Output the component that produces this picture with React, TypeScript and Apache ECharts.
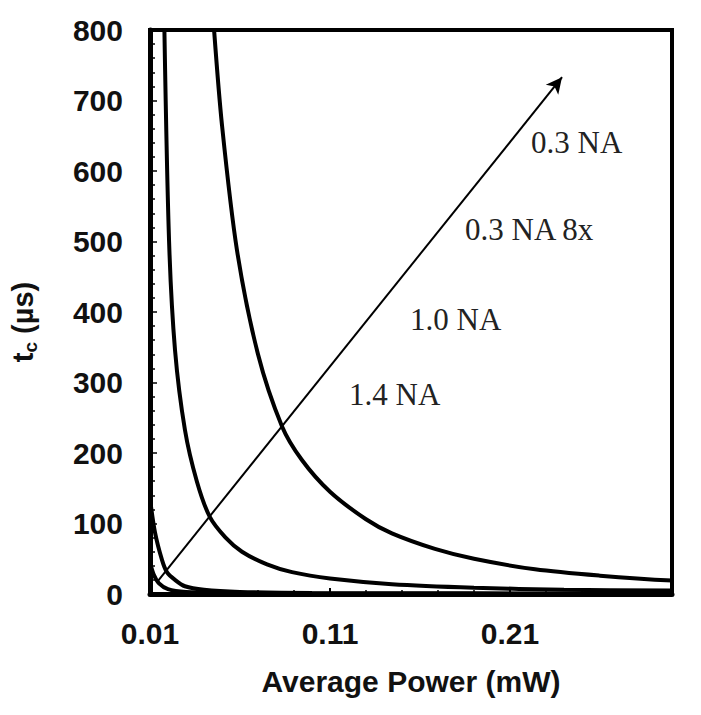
import React, { useEffect, useRef } from "react";
import * as echarts from "echarts";

// Average power (mW) vs t_c (µs)
const na03: [number, number][] = [
  [0.0456, 800], [0.05, 665], [0.0583, 488], [0.07, 340], [0.0833, 238], [0.0944, 190],
  [0.11, 145], [0.13, 106], [0.1444, 86], [0.1683, 64], [0.19, 50], [0.2239, 35],
  [0.26, 26], [0.3, 19],
];
const na03x8: [number, number][] = [
  [0.018, 800], [0.0206, 500], [0.0239, 346], [0.0294, 233], [0.036, 160], [0.0433, 109],
  [0.052, 80], [0.0611, 60], [0.075, 42], [0.0889, 31], [0.11, 22], [0.1444, 14],
  [0.19, 9], [0.24, 6], [0.3, 5],
];
const na10: [number, number][] = [
  [0.01, 135], [0.0128, 87], [0.0167, 48], [0.0194, 31], [0.0239, 20], [0.0294, 11],
  [0.04, 6], [0.06, 3], [0.1, 1.5], [0.3, 0.5],
];
const na14: [number, number][] = [
  [0.01, 45], [0.012, 28], [0.015, 15], [0.02, 7], [0.03, 3], [0.05, 1.5], [0.1, 0.5], [0.3, 0.2],
];
const arrowStart: [number, number] = [0.0139, 17];
const arrowEnd: [number, number] = [0.2389, 733];
const xTickLabels = ["0.01", "0.11", "0.21"];
const curveLabels = ["0.3 NA", "0.3 NA 8x", "1.0 NA", "1.4 NA"];

export default function App() {
  const ref = useRef<HTMLDivElement>(null);
  useEffect(() => {
    if (!ref.current) return;
    const chart = echarts.init(ref.current, undefined, { renderer: "svg" });
    const curve = (name: string, data: [number, number][], extra: any = {}) => ({
      name,
      type: "line",
      data,
      smooth: 0.3,
      showSymbol: false,
      symbol: "none",
      lineStyle: { color: "#000", width: 4 },
      ...extra,
    });
    const serif = "'Liberation Serif', 'DejaVu Serif', serif";
    const sans = "'Liberation Sans', Arial, sans-serif";
    const labelPos = [
      { x: 531, y: 145 },
      { x: 465, y: 232 },
      { x: 410, y: 322 },
      { x: 349, y: 397 },
    ];
    chart.setOption({
      animation: false,
      backgroundColor: "#fff",
      grid: {
        left: 148, right: 29, top: 30, bottom: 121,
        show: true, borderColor: "#000", borderWidth: 4,
      },
      xAxis: {
        type: "value",
        min: 0.01,
        max: 0.3,
        interval: 0.1,
        name: "Average Power (mW)",
        nameLocation: "middle",
        nameGap: 72,
        nameTextStyle: { fontFamily: sans, fontWeight: "bold", fontSize: 30, color: "#111" },
        axisLine: { show: true, lineStyle: { color: "#000", width: 5 } },
        axisTick: { show: true, inside: true, length: 6, lineStyle: { color: "#000", width: 2 } },
        minorTick: { show: true, splitNumber: 5, length: 4, lineStyle: { color: "#000", width: 1.5 } },
        splitLine: { show: false },
        axisLabel: {
          margin: 24,
          fontFamily: sans, fontWeight: "bold", fontSize: 30, color: "#111",
          formatter: (v: number) => {
            const s = v.toFixed(2);
            return xTickLabels.includes(s) ? s : "";
          },
        },
      },
      yAxis: {
        type: "value",
        min: 0,
        max: 800,
        interval: 100,
        name: "{t|t}{sub|c}{t| (µs)}",
        nameLocation: "middle",
        nameGap: 110,
        nameTextStyle: {
          padding: [0, 20, 0, 0],
          rich: {
            t: { fontFamily: sans, fontWeight: "bold", fontSize: 29, color: "#111" },
            sub: { fontFamily: sans, fontWeight: "bold", fontSize: 19, color: "#111", padding: [16, 0, 0, 0] },
          },
        },
        axisLine: { show: true, lineStyle: { color: "#000", width: 5 } },
        axisTick: { show: true, inside: true, length: 7, lineStyle: { color: "#000", width: 1.5 } },
        minorTick: { show: true, splitNumber: 5, length: 5, lineStyle: { color: "#000", width: 1.5 } },
        splitLine: { show: false },
        axisLabel: {
          margin: 27,
          fontFamily: sans, fontWeight: "bold", fontSize: 30, color: "#111",
        },
      },
      series: [
        curve("0.3 NA", na03, {
          markLine: {
            silent: true,
            symbol: ["none", "arrow"],
            symbolSize: [12, 16],
            label: { show: false },
            lineStyle: { color: "#000", width: 2, type: "solid" },
            data: [[{ coord: arrowStart }, { coord: arrowEnd }]],
          },
        }),
        curve("0.3 NA 8x", na03x8),
        curve("1.0 NA", na10),
        curve("1.4 NA", na14),
      ],
      graphic: curveLabels.map((t, i) => ({
        type: "text",
        left: labelPos[i].x,
        top: labelPos[i].y - 18,
        style: { text: t, font: `31px ${serif}`, fill: "#222" },
      })),
    });
    return () => chart.dispose();
  }, []);
  return (
    <div
      ref={ref}
      style={{ position: "fixed", left: 0, top: 0, width: 701, height: 715, background: "#fff" }}
    />
  );
}
